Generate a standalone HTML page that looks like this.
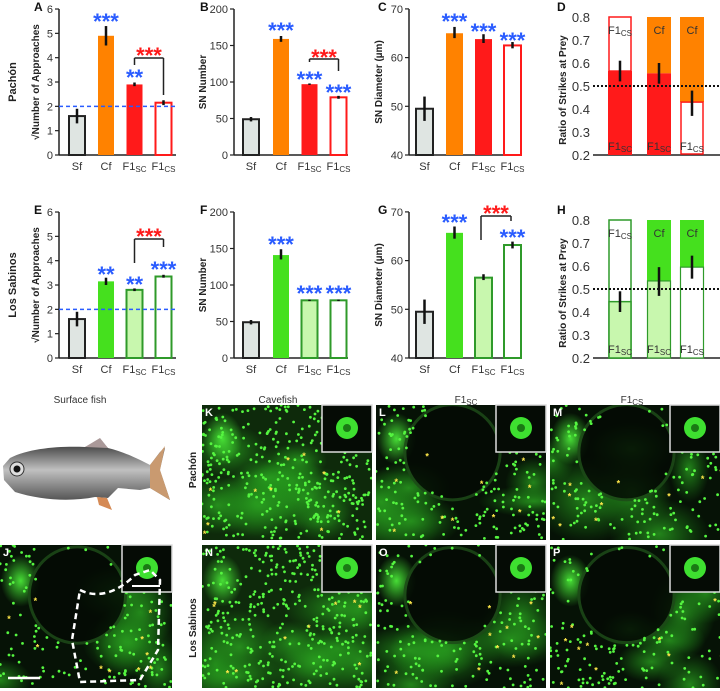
<!DOCTYPE html>
<html><head><meta charset="utf-8"><style>
html,body{margin:0;padding:0;background:#fff;width:720px;height:691px;overflow:hidden}
svg text{font-family:"Liberation Sans",sans-serif}
</style></head><body>
<svg id="s" width="720" height="691" xmlns="http://www.w3.org/2000/svg">
<defs>
<radialGradient id="gA"><stop offset="0" stop-color="#4ae838" stop-opacity="0.95"/><stop offset="1" stop-color="#3fd830" stop-opacity="0"/></radialGradient>
<radialGradient id="gB"><stop offset="0" stop-color="#2aa020" stop-opacity="0.8"/><stop offset="1" stop-color="#1f8a18" stop-opacity="0"/></radialGradient>
<linearGradient id="fishg" x1="0" y1="0" x2="0" y2="1"><stop offset="0" stop-color="#2a2a2a"/><stop offset="0.5" stop-color="#c0c0c0"/><stop offset="1" stop-color="#555"/></linearGradient>
</defs>
</svg>
<script>
const S=document.getElementById('s');let h='';
function t(x,y,s,o){o=o||{};h+=`<text x="${x}" y="${y}" font-size="${o.fs||11}" fill="${o.c||'#222'}" text-anchor="${o.a||'middle'}" font-weight="${o.b?'bold':'normal'}"${o.r?` transform="rotate(-90 ${x} ${y})"`:''}>${s}</text>`;}
function r(x,y,w,hh,f,st,sw){h+=`<rect x="${x}" y="${y}" width="${w}" height="${hh}" fill="${f}" stroke="${st||'none'}" stroke-width="${sw||0}"/>`;}
function l(x1,y1,x2,y2,c,w,d){h+=`<line x1="${x1}" y1="${y1}" x2="${x2}" y2="${y2}" stroke="${c||'#222'}" stroke-width="${w||1.5}"${d?` stroke-dasharray="${d}"`:''}/>`;}
function star(x,cy,n,c){t(x,cy+12,'*'.repeat(n),{fs:22,c:c,b:1});}
const F1=(s)=>`F1<tspan font-size="8" dy="2">${s}</tspan>`;
const BL='#2a5cff',RD='#ff1a1a',OR='#ff8200',GR='#45e01e',LG='#c8f7ae',DG='#2f9a2a';
function axes(ax,oy,x2,ticks,ymap,title,tx){
 l(ax,oy+9,ax,oy+155,'#222',1.5);l(ax,oy+155,x2,oy+155,'#222',1.5);
 ticks.forEach(v=>{const y=ymap(v);l(ax-4,y,ax,y,'#222',1.2);t(ax-6,y+4,v,{a:'end',fs:11,c:'#333'});});
 t(tx,oy+82,title,{r:1,b:1,fs:10});
}
function xl(cs,oy){const L=['Sf','Cf',F1('SC'),F1('CS')];cs.forEach((c,i)=>t(c,oy+170,L[i],{fs:11,c:'#333'}));}
function bar(c,w,y,base,f,st){r(c-w/2+1,y,w-2,base-y,f,st,st?2:0);}
function eb(c,y1,y2){l(c,y1,c,y2,'#111',2.5);}
function rows(oy,green){
 const cf=green?GR:OR, sc=green?LG:RD, cs='#fff', csS=green?DG:RD;
 let ym=v=>oy+155-v*24.33; const cA=[77,106,134.5,163.5];
 axes(59,oy,176,[0,1,2,3,4,5,6],ym,'√Number of Approaches',39);
 const dA=green?[[1.6,1.3,1.9],[3.15,3.0,3.3],[2.8,2.75,2.86],[3.35,3.3,3.42]]:[[1.6,1.3,1.9],[4.9,4.5,5.3],[2.9,2.83,2.98],[2.15,2.05,2.25]];
 const fills=['#dfe5e2',cf,sc,cs],strokes=['#222',null,green?DG:null,csS];
 dA.forEach((d,i)=>{bar(cA[i],18,ym(d[0]),oy+155,fills[i],strokes[i]);eb(cA[i],ym(d[1]),ym(d[2]));});
 l(59,ym(2),176,ym(2),'#2a5cff',1.5,'4,3');
 if(!green){star(106,oy+17,3,BL);star(134.5,oy+73,2,BL);l(134.5,oy+58,163.5,oy+58);l(134.5,oy+58,134.5,oy+65);l(163.5,oy+58,163.5,oy+95);star(149,oy+51,3,RD);}
 else{star(106,oy+67,2,BL);star(134.5,oy+77,2,BL);star(163.5,oy+62,3,BL);l(134.5,oy+36,163.5,oy+36);l(134.5,oy+36,134.5,oy+60);l(163.5,oy+36,163.5,oy+44);star(149,oy+29,3,RD);}
 xl(cA,oy);
 ym=v=>oy+155-v*0.73; const cB=[251,281,309.5,338.5];
 axes(234,oy,348,[0,50,100,150,200],ym,'SN Number',206);
 const dB=green?[[49,46,52],[141,135,149],[79,78,80],[79,78,80]]:[[49,46,52],[159,155,163],[97,96,98],[79,77,81]];
 dB.forEach((d,i)=>{bar(cB[i],18,ym(d[0]),oy+155,fills[i],strokes[i]);eb(cB[i],ym(d[1]),ym(d[2]));});
 if(!green){star(281,oy+26,3,BL);star(309.5,oy+75,3,BL);star(338.5,oy+88,3,BL);l(309.5,oy+59,338.5,oy+59);l(309.5,oy+59,309.5,oy+62);l(338.5,oy+59,338.5,oy+71);star(324,oy+53,3,RD);}
 else{star(281,oy+37,3,BL);star(309.5,oy+86,3,BL);star(338.5,oy+86,3,BL);}
 xl(cB,oy);
 ym=v=>oy+155-(v-40)*4.87; const cC=[424.5,454.5,483.5,512.5];
 axes(409,oy,522,[40,50,60,70],ym,'SN Diameter (µm)',382);
 const dC=green?[[49.5,47,52],[65.7,64.5,67],[56.5,56,57.2],[63.2,62.5,63.9]]:[[49.5,47,52],[65,64,66.3],[63.8,63,64.8],[62.5,61.9,63.2]];
 dC.forEach((d,i)=>{bar(cC[i],19,ym(d[0]),oy+155,fills[i],strokes[i]);eb(cC[i],ym(d[1]),ym(d[2]));});
 if(!green){star(454.5,oy+17,3,BL);star(483.5,oy+27,3,BL);star(512.5,oy+36,3,BL);}
 else{star(454.5,oy+15,3,BL);star(512.5,oy+30,3,BL);l(481,oy+13,511,oy+13);l(481,oy+13,481,oy+37);l(511,oy+13,511,oy+18);star(496,oy+6,3,RD);}
 xl(cC,oy);
 ym=v=>oy+155-(v-0.2)*230;
 l(593,oy+155,720,oy+155,'#222',1.5);
 [0.2,0.3,0.4,0.5,0.6,0.7,0.8].forEach(v=>t(590,ym(v)+5,v.toFixed(1),{a:'end',fs:13,c:'#333'}));
 t(566,oy+90,'Ratio of Strikes at Prey',{r:1,b:1,fs:10});
 const top=ym(0.8),bot=oy+155;
 if(!green){
  let y=ym(0.565);r(609,top,22,y-top,'#fff',RD,1.5);r(608,y,24,bot-y,RD);eb(620,ym(0.61),ym(0.52));
  y=ym(0.555);r(647,top,24,y-top,OR);r(647,y,24,bot-y,RD);eb(659,ym(0.6),ym(0.51));
  y=ym(0.43);r(680,top,24,y-top,OR);r(681,y,22,bot-y-1,'#fff',RD,1.5);eb(692,ym(0.48),ym(0.37));
  t(620,oy+34,F1('CS'),{fs:11,c:'#333'});t(620,oy+150,F1('SC'),{fs:11,c:'#333'});
  t(659,oy+34,'Cf',{fs:11,c:'#333'});t(659,oy+150,F1('SC'),{fs:11,c:'#333'});
  t(692,oy+34,'Cf',{fs:11,c:'#333'});t(692,oy+150,F1('CS'),{fs:11,c:'#333'});
 }else{
  let y=ym(0.445);r(609,top,22,bot-top,'#fff',DG,1.5);r(609,y,22,bot-y,LG,DG,1.5);eb(620,ym(0.49),ym(0.4));
  y=ym(0.535);r(647,top,24,y-top,GR);r(647.5,y,23,bot-y,LG,DG,1.2);eb(659,ym(0.595),ym(0.47));
  y=ym(0.595);r(680,top,24,y-top,GR);r(680.5,y,23,bot-y,'#fff',DG,1.2);eb(692,ym(0.645),ym(0.545));
  t(620,oy+34,F1('CS'),{fs:11,c:'#333'});t(620,oy+150,F1('SC'),{fs:11,c:'#333'});
  t(659,oy+34,'Cf',{fs:11,c:'#333'});t(659,oy+150,F1('SC'),{fs:11,c:'#333'});
  t(692,oy+34,'Cf',{fs:11,c:'#333'});t(692,oy+150,F1('CS'),{fs:11,c:'#333'});
 }
 l(593,ym(0.5),720,ym(0.5),'#111',2,'2,2');
}
rows(0,false);rows(203,true);
[['A',34,11],['B',200,11],['C',378,11],['D',557,11],['E',34,214],['F',200,214],['G',378,214],['H',557,214]].forEach(a=>t(a[1],a[2],a[0],{b:1,fs:12,a:'start',c:'#111'}));
t(16,82,'Pachón',{r:1,b:1,fs:11});t(16,285,'Los Sabinos',{r:1,b:1,fs:11});
t(80,403,'Surface fish',{fs:10,c:'#333'});t(278,403,'Cavefish',{fs:10,c:'#333'});t(466,403,F1('SC'),{fs:10,c:'#333'});t(632,403,F1('CS'),{fs:10,c:'#333'});
t(196,470,'Pachón',{r:1,b:1,fs:10});t(196,628,'Los Sabinos',{r:1,b:1,fs:10});
h+=`<path d="M10,458 C30,448 60,446 85,447 L100,440 L108,448 C125,452 140,460 150,465 L160,452 L165,448 L160,470 L170,500 L150,488 L140,490 L118,488 L108,498 L95,497 C70,502 40,500 15,492 L4,480 L3,466 Z" fill="url(#fishg)"/>`;
h+=`<path d="M150,465 L165,446 L160,470 L170,500 L150,488 Z" fill="#c99a70"/><path d="M97,497 L107,498 L112,510 L99,505 Z" fill="#d58a55"/><path d="M85,447 L100,438 L108,448 Z" fill="#a99"/>`;
h+=`<circle cx="17" cy="469" r="7" fill="#ddd" stroke="#333"/><circle cx="17" cy="469" r="3.5" fill="#111"/>`;
let seed=7;function rnd(){seed=(seed*16807)%2147483647;return seed/2147483647;}
function photo(x,y,w,hh,lab,inset){
 const cave=(lab=='K'||lab=='N');
 r(x,y,w,hh,cave?'#0e2a0b':'#061206');
 h+=`<svg x="${x}" y="${y}" width="${w}" height="${hh}">`;
 for(let i=0;i<(cave?10:6);i++){h+=`<ellipse cx="${rnd()*w}" cy="${hh*0.3+rnd()*hh*0.7}" rx="${20+rnd()*40}" ry="${15+rnd()*30}" fill="url(#gB)"/>`;}
 h+=`<ellipse cx="${w*0.12}" cy="${hh*0.25}" rx="20" ry="26" fill="url(#gA)"/>`;
 if(!cave)h+=`<circle cx="${w*0.45}" cy="${hh*0.35}" r="${w*0.28}" fill="#040a04" stroke="#1d4a18" stroke-width="3" opacity="0.85"/>`;
 for(let i=0;i<(cave?380:220);i++){const px=rnd()*w,py=rnd()*hh;if(!cave&&Math.hypot(px-w*0.45,py-hh*0.35)<w*0.26)continue;h+=`<circle cx="${px.toFixed(1)}" cy="${py.toFixed(1)}" r="1.4" fill="#55f540"/>`;}
 for(let i=0;i<10;i++){h+=`<text x="${(rnd()*w).toFixed(1)}" y="${(hh*0.4+rnd()*hh*0.6).toFixed(1)}" font-size="9" fill="#ffe84a" font-weight="bold">*</text>`;}
 h+=`</svg>`;
 if(inset){r(x+w-50,y,50,47,'#050b05','#ddd',1.5);h+=`<circle cx="${x+w-25}" cy="${y+23}" r="11" fill="#3ee030"/><circle cx="${x+w-25}" cy="${y+23}" r="4" fill="#1a7a14"/>`;}
 t(x+3,y+11,lab,{fs:11,a:'start',c:'#fff',b:1});
}
photo(0,545,172,143,'J',true);
h+=`<path d="M80,590 C100,600 120,590 135,575 L150,570 L160,580 L158,650 L140,680 L80,682 L72,640 Z" fill="none" stroke="#fff" stroke-width="2.5" stroke-dasharray="6,4"/>`;
l(8,678,40,678,'#fff',2.5);l(132,586,160,586,'#fff',2);
photo(202,405,170,135,'K',true);photo(376,405,170,135,'L',true);photo(550,405,170,135,'M',true);
photo(202,545,170,143,'N',true);photo(376,545,170,143,'O',true);photo(550,545,170,143,'P',true);
S.insertAdjacentHTML('beforeend',h);
</script>
</body></html>
